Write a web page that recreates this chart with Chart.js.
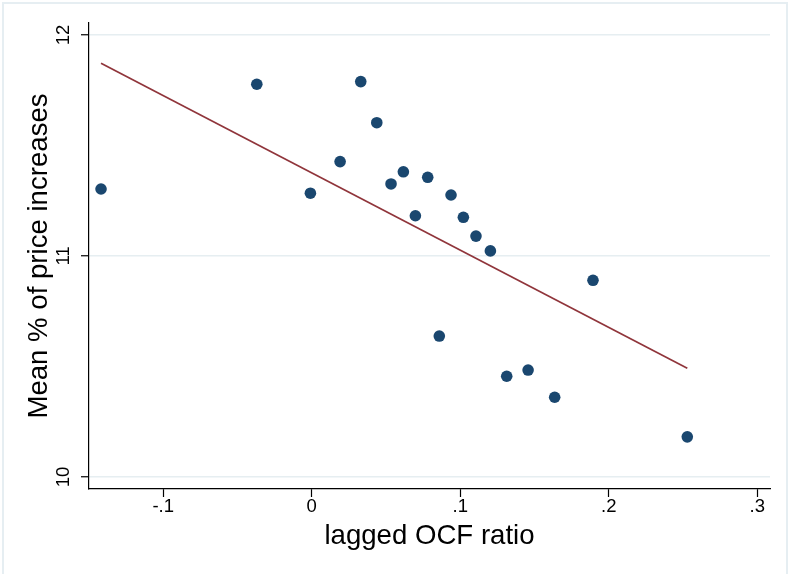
<!DOCTYPE html>
<html>
<head>
<meta charset="utf-8">
<script src="https://cdn.jsdelivr.net/npm/chart.js@4/dist/chart.umd.min.js"></script>
<style>
html,body{margin:0;padding:0;background:#fff;}
#wrap{width:790px;height:574px;position:relative;}
</style>
</head>
<body>
<div id="wrap"><canvas id="c" width="790" height="574"></canvas></div>
<script>
// Data
const ocfRatio = [-0.1419, -0.0370, -0.0009, 0.0191, 0.0330, 0.0438, 0.0534, 0.0617, 0.0698, 0.0781,
                  0.0859, 0.0938, 0.1021, 0.1106, 0.1203, 0.1313, 0.1457, 0.1636, 0.1894, 0.2529];
const meanPctIncrease = [11.303, 11.777, 11.284, 11.427, 11.789, 11.603, 11.326, 11.381, 11.182, 11.356,
                         10.638, 11.276, 11.175, 11.090, 11.023, 10.456, 10.484, 10.361, 10.890, 10.182];
const fitRatio = [-0.1419, 0.2529];
const fitMean = [11.872, 10.492];
const xTickValues = [-0.1, 0, 0.1, 0.2, 0.3];
const xTickLabels = ['-.1', '0', '.1', '.2', '.3'];
const yTickValues = [10, 11, 12];
const yTickLabels = ['10', '11', '12'];
const xTitle = 'lagged OCF ratio';
const yTitle = 'Mean % of price increases';

const FONT = "'Liberation Sans', Arial, sans-serif";

const scatterPts = ocfRatio.map((x, i) => ({x: x, y: meanPctIncrease[i]}));
const fitPts = fitRatio.map((x, i) => ({x: x, y: fitMean[i]}));

const framePlugin = {
  id: 'frame',
  beforeDraw(chart) {
    const ctx = chart.ctx;
    ctx.save();
    ctx.fillStyle = '#ffffff';
    ctx.fillRect(0, 0, chart.width, chart.height);
    ctx.strokeStyle = '#e6eef2';
    ctx.lineWidth = 2;
    ctx.strokeRect(3, 3, 784, 600);
    ctx.restore();
  }
};

new Chart(document.getElementById('c'), {
  type: 'scatter',
  data: {
    datasets: [
      {
        type: 'line',
        data: fitPts,
        borderColor: '#90353b',
        borderWidth: 1.7,
        pointRadius: 0,
        fill: false,
        tension: 0,
        order: 2
      },
      {
        type: 'scatter',
        data: scatterPts,
        backgroundColor: '#1a476f',
        borderColor: '#1a476f',
        borderWidth: 0,
        pointRadius: 5.8,
        order: 1
      }
    ]
  },
  options: {
    responsive: false,
    animation: false,
    devicePixelRatio: 1,
    layout: {padding: {top: 23, right: 20, bottom: 0, left: 0}},
    plugins: {legend: {display: false}, tooltip: {enabled: false}},
    scales: {
      x: {
        type: 'linear',
        min: -0.15,
        max: 0.3086,
        afterFit(s) { s.height = 85; },
        afterBuildTicks(s) { s.ticks = xTickValues.map(v => ({value: v})); },
        border: {display: true, color: '#000', width: 1.2},
        grid: {drawOnChartArea: false, drawTicks: true, tickLength: 8, tickColor: '#000', tickWidth: 1.2, color: '#000'},
        ticks: {
          color: '#000',
          font: {family: FONT, size: 18.5, lineHeight: 1},
          padding: 1,
          maxRotation: 0, minRotation: 0,
          callback(v) { const i = xTickValues.findIndex(t => Math.abs(t - v) < 1e-9); return i >= 0 ? xTickLabels[i] : ''; }
        },
        title: {
          display: true, text: xTitle, color: '#000',
          font: {family: FONT, size: 27.6, lineHeight: 1},
          padding: {top: 0, bottom: 23.5}
        }
      },
      y: {
        type: 'linear',
        min: 9.946,
        max: 12.054,
        afterFit(s) { s.width = 89; },
        afterBuildTicks(s) { s.ticks = yTickValues.map(v => ({value: v})); },
        border: {display: true, color: '#000', width: 1.2},
        grid: {drawOnChartArea: true, drawTicks: true, tickLength: 8, tickColor: '#000', tickWidth: 1.2, color: '#e6eef1', lineWidth: 1.5},
        ticks: {
          color: '#000',
          font: {family: FONT, size: 18.5, lineHeight: 1},
          padding: 7,
          minRotation: 90, maxRotation: 90,
          crossAlign: 'center',
          callback(v) { const i = yTickValues.findIndex(t => Math.abs(t - v) < 1e-9); return i >= 0 ? yTickLabels[i] : ''; }
        },
        title: {
          display: true, text: yTitle, color: '#000',
          font: {family: FONT, size: 27.6, lineHeight: 1},
          padding: {top: 26, bottom: 0}
        }
      }
    }
  },
  plugins: [framePlugin]
});
</script>
</body>
</html>
